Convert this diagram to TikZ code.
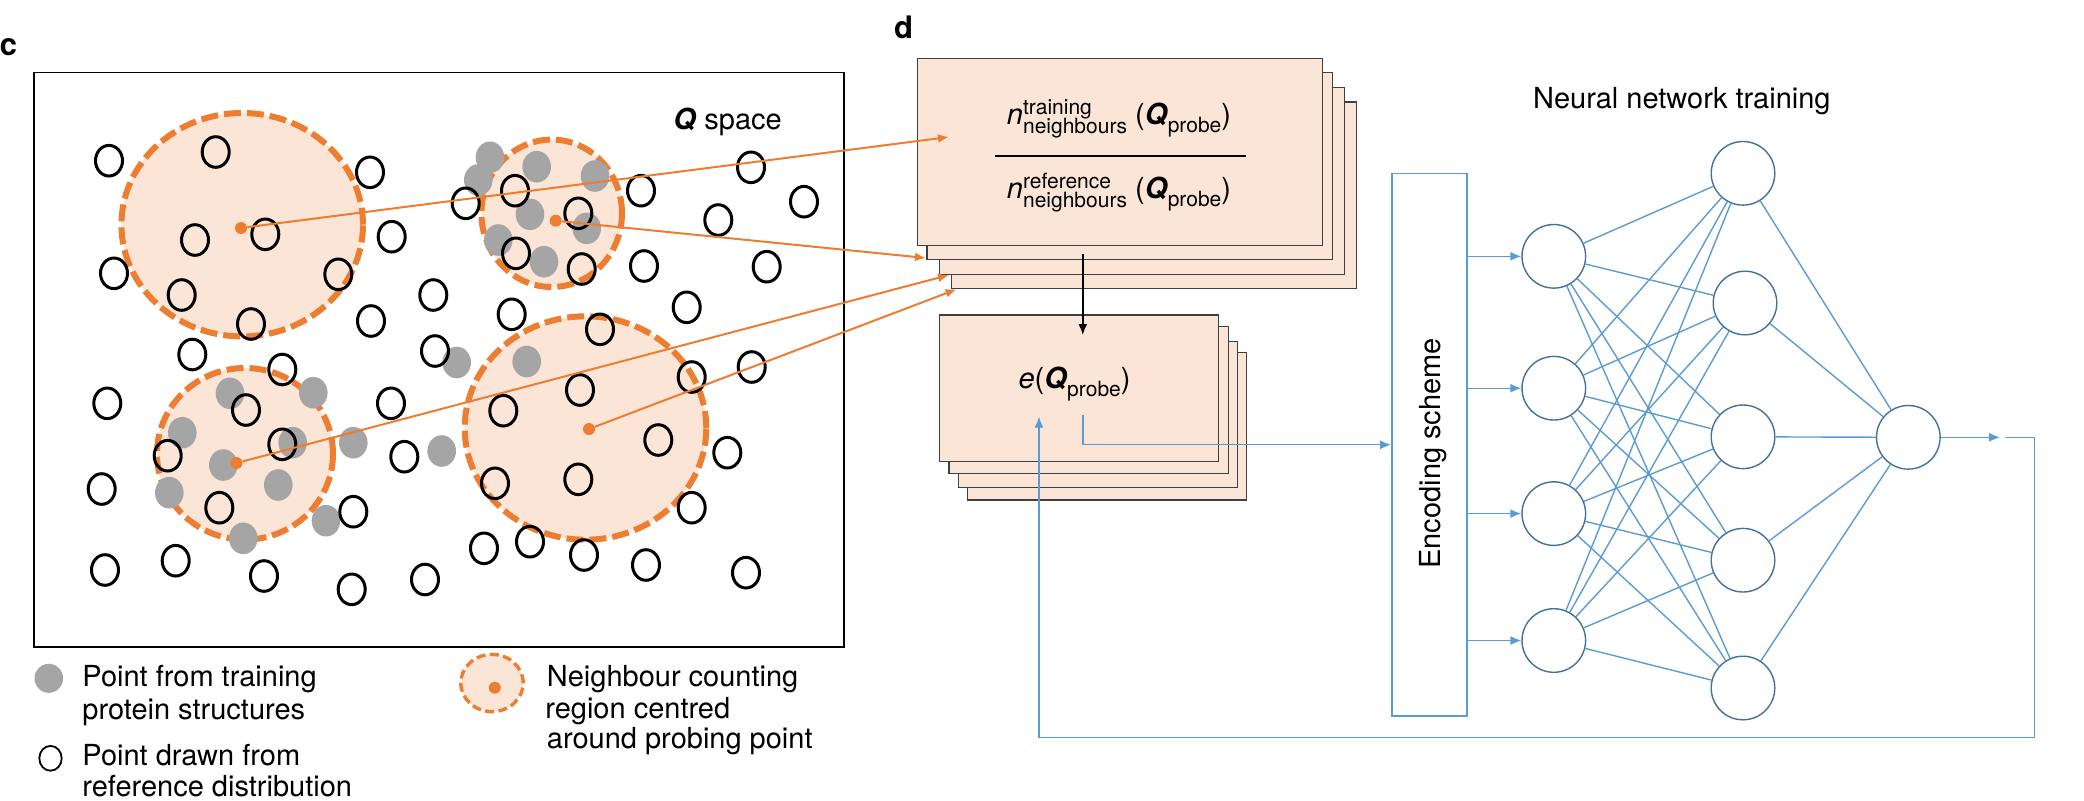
\documentclass[tikz,border=0pt]{standalone}
\usepackage{fontspec}
\setmainfont{TeX Gyre Heros}
\usetikzlibrary{arrows.meta}
\definecolor{peach}{HTML}{FBE5D6}
\definecolor{orng}{HTML}{ED7D31}
\definecolor{bl}{HTML}{5B9BD5}
\definecolor{nbl}{HTML}{41719C}
\definecolor{gry}{HTML}{A5A5A5}
\definecolor{edgegr}{HTML}{404040}
\newcommand{\ssz}{\fontsize{10.5}{12}\selectfont}
\begin{document}
\begin{tikzpicture}[x=0.5pt,y=-0.5pt,
  txt/.style={font=\fontsize{14.5}{17}\selectfont, inner sep=0pt},
  lbl/.style={font=\fontsize{15.5}{18}\selectfont\bfseries, inner sep=0pt},
  refpt/.style={draw=black, line width=1.5pt},
  trpt/.style={fill=gry},
  region/.style={fill=peach, draw=orng, line width=3pt, dash pattern=on 8.5pt off 3pt},
  sheet/.style={fill=peach, draw=edgegr, line width=0.65pt},
  olink/.style={draw=orng, line width=1pt, -{Latex[length=5.5pt,width=4.5pt]}},
  blink/.style={draw=bl, line width=0.7pt},
  barrow/.style={blink, -{Latex[length=5.5pt,width=4.5pt]}},
  neuron/.style={circle, draw=nbl, line width=0.7pt, minimum size=31.8pt, inner sep=0pt, fill=white},
  probe/.style={circle, fill=orng, inner sep=0pt, minimum size=6pt},
]
\useasboundingbox (0,0) rectangle (2084,800);

% ---------- panel c ----------
\node[lbl, anchor=base] (lc) at (8.5,55) {c};
\draw[line width=0.85pt] (34,72.6) rectangle (844,646.8);
\node[txt, anchor=base west] (qs) at (673,129.3) {\textbf{\textit{Q}} space};

% neighbour regions
\draw[region] (242.2,224.7) ellipse [x radius=60.4pt, y radius=55.85pt];
\draw[region] (551.7,213.3) ellipse [x radius=35.15pt, y radius=36.85pt];
\draw[region] (585.5,428) ellipse [x radius=60.4pt, y radius=55.85pt];
\draw[region] (245,453.8) ellipse [x radius=44pt, y radius=42.9pt];

% training points (grey)
\foreach \a/\b in {490/157.3, 478.3/180, 536.7/166.7, 595/176, 530/214.3, 586.7/228.3, 498.3/240, 544/261.7,
  456.7/362.5, 526.7/361.5,
  230/393.3, 313.3/392.7, 182.3/432.7, 292.7/442.7, 223.3/465, 353.3/442.7, 441.7/451, 169.3/492.7, 278.3/485, 326/520.7, 243.3/538.3}
  {\fill[trpt] (\a,\b) ellipse [x radius=7.15pt, y radius=7.9pt];}

% reference points (open)
\foreach \a/\b in {109/160.7, 215.7/152, 370/172.3, 195/240, 265.3/234.3, 391.7/236.7, 114/273.3, 181.7/295, 338.3/274.3,
  251/324, 371/321, 433.3/295, 192.3/354.5, 282.3/369.5, 435/351,
  107.3/403.3, 246/410, 391/403.3, 167.7/455.7, 282.3/444.3, 404.3/456.7, 101.7/489, 219.3/507.7, 353.3/511.7,
  105/570, 175.7/560.7, 264/576, 351.7/589.3, 425/579.5,
  580/390, 691.7/377, 751.7/367, 503.3/410.7, 658.3/440, 727.3/452.7, 495/483.3, 578.3/479.3, 691.7/507.7,
  484/548.3, 530/541.7, 584/555, 646/565, 746/572.7,
  465.7/203.3, 515/190.7, 578.3/213.3, 516/253.3, 581.7/269, 641/190.7, 751/167.3, 804/201.7, 718.3/220,
  644/266, 766.7/266.7, 511.7/314.3, 686.7/307.3, 600/329.3}
  {\draw[refpt] (\a,\b) ellipse [x radius=6.75pt, y radius=7.65pt];}

% legend
\fill[trpt] (48.8,678.3) ellipse [x radius=7.15pt, y radius=7.25pt];
\node[txt, anchor=base west] (lg1a) at (82,686.7) {Point from training};
\node[txt, anchor=base west] (lg1b) at (82,719.3) {protein structures};
\draw[draw=black, line width=0.9pt] (50.5,758.3) ellipse [x radius=5.6pt, y radius=6.2pt];
\node[txt, anchor=base west] (lg2a) at (82,765) {Point drawn from};
\node[txt, anchor=base west] (lg2b) at (82,796.7) {reference distribution};
\draw[fill=peach, draw=orng, line width=1.7pt, dash pattern=on 4.5pt off 2.2pt] (492,683) ellipse [x radius=15.6pt, y radius=14.3pt];
\node[probe] (lgp) at (494.8,687.7) {};
\node[txt, anchor=base west] (lg3a) at (546.5,686.7) {Neighbour counting};
\node[txt, anchor=base west] (lg3b) at (545,718.3) {region centred};
\node[txt, anchor=base west] (lg3c) at (546.5,748.5) {around probing point};

% ---------- panel d ----------
\node[lbl, anchor=base] (ld) at (903.5,38.3) {d};

\draw[sheet] (951.6,102) rectangle (1356.8,288.7);
\draw[sheet] (939.3,87.3) rectangle (1344.6,274.3);
\draw[sheet] (927.1,72.7) rectangle (1332.4,259.3);
\draw[sheet] (917.5,58.3) rectangle (1322.8,245.7);

\node[txt, anchor=base] (num) at (1119,124) {\textit{n}\rlap{\raisebox{5pt}{\ssz training}}\raisebox{-4.5pt}{\ssz neighbours} (\textbf{\textit{Q}}\raisebox{-4.3pt}{\ssz probe})};
\draw[line width=1pt] (995,155.7) -- (1245.5,155.7);
\node[txt, anchor=base] (den) at (1119,198.3) {\textit{n}\rlap{\raisebox{5pt}{\ssz reference}}\raisebox{-4.5pt}{\ssz neighbours} (\textbf{\textit{Q}}\raisebox{-4.3pt}{\ssz probe})};

\draw[sheet] (967.3,352.7) rectangle (1246.6,500);
\draw[sheet] (958.5,341.7) rectangle (1237.8,487.7);
\draw[sheet] (948.9,326.7) rectangle (1228.3,473.3);
\draw[sheet] (939.3,315) rectangle (1218.7,461.7);
\node[txt, anchor=base] (ev) at (1074.5,388) {\textit{e}(\textbf{\textit{Q}}\raisebox{-4.3pt}{\ssz probe})};

\coordinate (dnA) at (1082.8,254);
\coordinate (dnB) at (1082.8,335);
\draw[line width=0.9pt, -{Latex[length=5.5pt,width=4.5pt]}] (dnA) -- (dnB);

% orange probe links
\node[probe] (p1) at (241,228) {};
\node[probe] (p2) at (555.7,220.7) {};
\node[probe] (p3) at (589,429) {};
\node[probe] (p4) at (236.5,463) {};
\coordinate (t1) at (949,137);
\coordinate (t2) at (926,258);
\coordinate (t3) at (949,275);
\coordinate (t4) at (956.5,289.3);
\draw[olink] (p1) -- (t1);
\draw[olink] (p2) -- (t2);
\draw[olink] (p4) -- (t3);
\draw[olink] (p3) -- (t4);

% neural network
\node[txt, anchor=base west] (nnt) at (1532.7,108.5) {Neural network training};
\node[draw=bl, line width=0.9pt, minimum width=37.35pt, minimum height=271.25pt, inner sep=0pt] (encbox) at (1429.35,444.75) {};
\node[txt, rotate=90, anchor=base west] (enc) at (1440.6,569) {Encoding scheme};

\node[neuron] (i1) at (1553.8,256.3) {};
\node[neuron] (i2) at (1553.8,388.2) {};
\node[neuron] (i3) at (1553.8,513.6) {};
\node[neuron] (i4) at (1553.8,640.5) {};
\node[neuron] (h1) at (1743,173.3) {};
\node[neuron] (h2) at (1745,303) {};
\node[neuron] (h3) at (1743,436.8) {};
\node[neuron] (h4) at (1743,560.2) {};
\node[neuron] (h5) at (1743,688) {};
\node[neuron] (o) at (1908.3,437.3) {};

\foreach \i in {1,...,4} {\draw[barrow] (encbox.east |- i\i) -- (i\i);}
\foreach \i in {1,...,4} {\foreach \j in {1,...,5} {\draw[blink] (i\i) -- (h\j);}}
\foreach \j in {1,...,5} {\draw[blink] (h\j) -- (o);}

\coordinate (oend) at (2000,437.3);
\draw[barrow] (o) -- (oend);
\coordinate (fb0) at (2005,437.3);
\coordinate (fbr) at (2034.3,737.4);
\coordinate (eup) at (1039,416.7);
\draw[barrow] (fb0) -| (fbr) -| (eup);
\coordinate (eout) at (1082.8,415);
\draw[barrow] (eout) |- (encbox.west);

\end{tikzpicture}
\end{document}
